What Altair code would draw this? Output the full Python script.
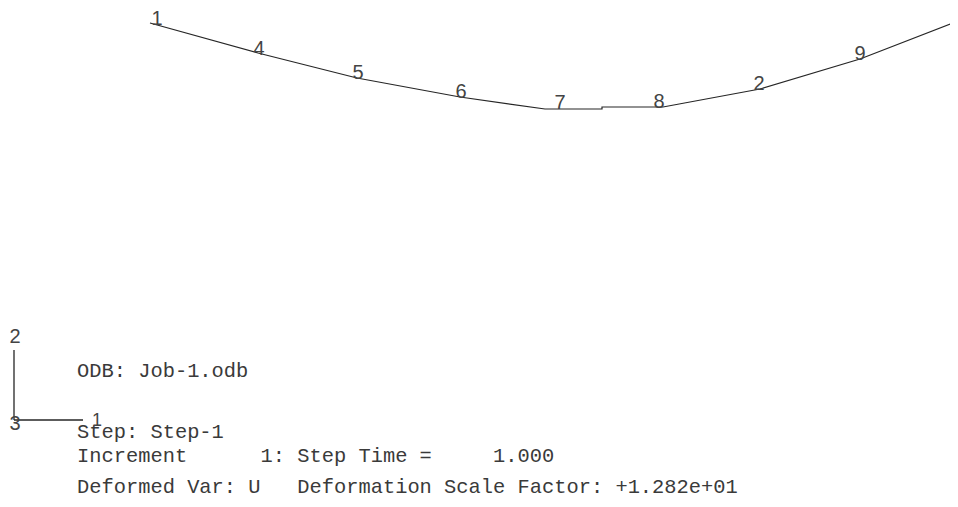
import altair as alt
import pandas as pd

# Deformed shape polyline (model units, origin at left support)
shape_x = [0.00, 1.08, 2.07, 3.10, 3.95, 4.52, 4.52, 5.13, 6.10, 7.10, 8.03]
shape_y = [0.00, -0.30, -0.55, -0.74, -0.86, -0.86, -0.84, -0.84, -0.66, -0.36, 0.00]

# Node labels
node_ids = ["1", "4", "5", "6", "7", "8", "2", "9", "3"]
node_x = [0.07, 1.09, 2.08, 3.11, 4.10, 5.09, 6.09, 7.10, 8.11]
node_y = [-0.02, -0.32, -0.56, -0.75, -0.86, -0.85, -0.67, -0.37, -0.01]

# Info block text
NB = "\u00a0"
info_lines = [
    "ODB: Job-1.odb",
    "Step: Step-1",
    "Increment" + NB * 6 + "1: Step Time =" + NB * 5 + "1.000",
    "Deformed Var: U" + NB * 3 + "Deformation Scale Factor: +1.282e+01",
]
info_baselines = [369, 430, 454, 485]

# Triad labels
triad_labels = ["2", "3", "1"]

X_DOM = [-1.42, 8.00]
Y_DOM = [-4.76, 0.15]
xs = alt.Scale(domain=X_DOM, nice=False, zero=False)
ys = alt.Scale(domain=Y_DOM, nice=False, zero=False)

shape_df = pd.DataFrame({"x": shape_x, "y": shape_y, "o": list(range(len(shape_x)))})
node_df = pd.DataFrame({"id": node_ids, "x": node_x, "y": node_y})

line = alt.Chart(shape_df).mark_line(color="#262626", strokeWidth=1.2).encode(
    x=alt.X("x:Q", scale=xs, axis=None),
    y=alt.Y("y:Q", scale=ys, axis=None),
    order="o:Q",
)

labels = alt.Chart(node_df).mark_text(
    font="Liberation Sans", fontSize=20, color="#444444", align="center", baseline="alphabetic"
).encode(
    x=alt.X("x:Q", scale=xs, axis=None),
    y=alt.Y("y:Q", scale=ys, axis=None),
    text="id:N",
)

one = pd.DataFrame({"k": [0]})

layers = [line, labels]

for txt, yb in zip(info_lines, info_baselines):
    layers.append(
        alt.Chart(one).mark_text(
            font="Liberation Mono", fontSize=20.4, color="#3a3a3a", align="left", baseline="alphabetic"
        ).encode(x=alt.value(69), y=alt.value(yb), text=alt.value(txt))
    )

# Triad
layers.append(
    alt.Chart(one).mark_rule(color="#262626", strokeWidth=1.3).encode(
        x=alt.value(6), y=alt.value(342), y2=alt.value(412)
    )
)
layers.append(
    alt.Chart(one).mark_rule(color="#262626", strokeWidth=1.3).encode(
        x=alt.value(6), x2=alt.value(75), y=alt.value(412)
    )
)
for t, tx, ty, fs in zip(triad_labels, [7, 7, 89], [335, 422, 418], [20, 20, 18]):
    layers.append(
        alt.Chart(one).mark_text(
            font="Liberation Sans", fontSize=fs, color="#444444", align="center", baseline="alphabetic"
        ).encode(x=alt.value(tx), y=alt.value(ty), text=alt.value(t))
    )

chart = alt.layer(*layers).properties(
    width=942, height=491, padding=0, autosize=alt.AutoSizeParams(type="none")
).configure_view(strokeOpacity=0, strokeWidth=0, fillOpacity=0)

chart.save("out.html", embed_options={"renderer": "svg", "actions": False})
